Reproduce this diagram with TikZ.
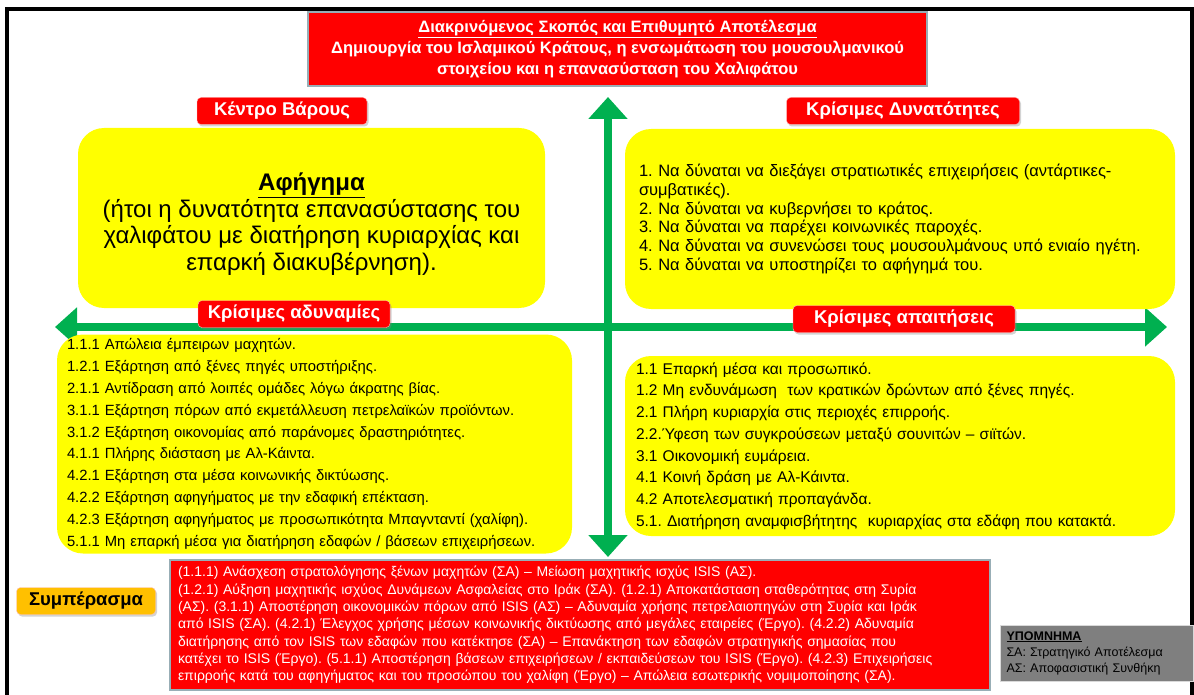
\documentclass[tikz,border=0pt]{standalone}
\usepackage{fontspec}
\setmainfont{Liberation Sans}
\usetikzlibrary{arrows.meta,shadows}
\definecolor{isred}{HTML}{FF0000}
\definecolor{isyellow}{HTML}{FFFF00}
\definecolor{isgreen}{HTML}{00B050}
\definecolor{isorange}{HTML}{FFC000}
\definecolor{isgray}{HTML}{7F7F7F}
\definecolor{isedge}{HTML}{98AEB6}
\frenchspacing

\begin{document}
\begin{tikzpicture}[x=1pt,y=-1pt]
		\useasboundingbox (0,0) rectangle (1194,695);
		\tikzstyle{tag}=[rectangle,rounded corners=4pt,fill=isred,draw=red!25,text=white,font=\bfseries\fontsize{18.5}{20}\selectfont,minimum height=27pt,drop shadow={opacity=0.35,shadow xshift=1.5pt,shadow yshift=-2pt}]
		\tikzstyle{panel}=[rectangle,rounded corners=26pt,fill=isyellow,align=left]
		\tikzstyle{redbox}=[rectangle,fill=isred,draw=isedge,line width=2pt,text=white]
		\tikzstyle{axis}=[line width=8pt,isgreen,{Triangle[width=38pt,length=22pt]}-{Triangle[width=38pt,length=22pt]}]
		% frame
		\draw[line width=3.5pt] (7,695) -- (7,9) -- (1192,9) -- (1192,695);
		% goal
		\node[redbox,minimum width=619pt,minimum height=74pt,align=center,font=\bfseries\fontsize{16.5}{21}\selectfont] (goal) at (617.5,49) {\underline{Διακρινόμενος Σκοπός και Επιθυμητό Αποτέλεσμα}\\Δημιουργία του Ισλαμικού Κράτους, η ενσωμάτωση του μουσουλμανικού\\στοιχείου και η επανασύσταση του Χαλιφάτου};
		% axes
		\coordinate (v_top) at (608,97);
		\coordinate (v_bot) at (608,557);
		\coordinate (h_left) at (55,327);
		\coordinate (h_right) at (1167,327);
		\draw[axis] (v_bot) -- (v_top);
		\draw[axis] (h_left) -- (h_right);
		% quadrants
		\node[panel,minimum width=467pt,minimum height=180pt] (cog) at (311.5,218) {};
		\node[align=center,font=\fontsize{24}{26.5}\selectfont] (cog_txt) at (311.5,224) {\textbf{\underline{Αφήγημα}}\\(ήτοι η δυνατότητα επανασύστασης του\\χαλιφάτου με διατήρηση κυριαρχίας και\\επαρκή διακυβέρνηση).};
		\node[panel,minimum width=550pt,minimum height=180pt,text width=522pt,inner xsep=14pt,font=\fontsize{16.5}{18.7}\selectfont] (cap) at (900,219) {1. Να δύναται να διεξάγει στρατιωτικές επιχειρήσεις (αντάρτικες-\\συμβατικές).\\2. Να δύναται να κυβερνήσει το κράτος.\\3. Να δύναται να παρέχει κοινωνικές παροχές.\\4. Να δύναται να συνενώσει τους μουσουλμάνους υπό ενιαίο ηγέτη.\\5. Να δύναται να υποστηρίζει το αφήγημά του.};
		\node[panel,minimum width=515pt,minimum height=219pt,text width=495pt,inner xsep=10pt,font=\fontsize{14.8}{21.8}\selectfont] (vuln) at (314.5,444) {1.1.1 Απώλεια έμπειρων μαχητών.\\1.2.1 Εξάρτηση από ξένες πηγές υποστήριξης.\\2.1.1 Αντίδραση από λοιπές ομάδες λόγω άκρατης βίας.\\3.1.1 Εξάρτηση πόρων από εκμετάλλευση πετρελαϊκών προϊόντων.\\3.1.2 Εξάρτηση οικονομίας από παράνομες δραστηριότητες.\\4.1.1 Πλήρης διάσταση με Αλ-Κάιντα.\\4.2.1 Εξάρτηση στα μέσα κοινωνικής δικτύωσης.\\4.2.2 Εξάρτηση αφηγήματος με την εδαφική επέκταση.\\4.2.3 Εξάρτηση αφηγήματος με προσωπικότητα Μπαγνταντί (χαλίφη).\\5.1.1 Μη επαρκή μέσα για διατήρηση εδαφών / βάσεων επιχειρήσεων.};
		\node[panel,minimum width=550pt,minimum height=180pt,text width=528pt,inner xsep=11pt,font=\fontsize{15.5}{21.7}\selectfont] (req) at (900,446) {1.1 Επαρκή μέσα και προσωπικό.\\1.2 Μη ενδυνάμωση\ \ των κρατικών δρώντων από ξένες πηγές.\\2.1 Πλήρη κυριαρχία στις περιοχές επιρροής.\\2.2.Ύφεση των συγκρούσεων μεταξύ σουνιτών -- σιϊτών.\\3.1 Οικονομική ευμάρεια.\\4.1 Κοινή δράση με Αλ-Κάιντα.\\4.2 Αποτελεσματική προπαγάνδα.\\5.1. Διατήρηση αναμφισβήτητης\ \ κυριαρχίας στα εδάφη που κατακτά.};
		% titles
		\node[tag,minimum width=170pt] (t_cog) at (282,111) {Κέντρο Βάρους};
		\node[tag,minimum width=233pt] (t_cap) at (903,111) {Κρίσιμες Δυνατότητες};
		\node[tag,minimum width=192pt] (t_vuln) at (294,314) {Κρίσιμες αδυναμίες};
		\node[tag,minimum width=222pt] (t_req) at (904,319) {Κρίσιμες απαιτήσεις};
		% conclusion
		\node[tag,fill=isorange,text=black,minimum width=139pt] (t_conc) at (86,601) {Συμπέρασμα};
		\node[redbox,minimum width=820pt,minimum height=130pt,text width=804pt,inner xsep=8pt,align=left,font=\fontsize{14}{17.3}\selectfont] (conc) at (580,625) {(1.1.1) Ανάσχεση στρατολόγησης ξένων μαχητών (ΣΑ) -- Μείωση μαχητικής ισχύς ISIS (ΑΣ).\\(1.2.1) Αύξηση μαχητικής ισχύος Δυνάμεων Ασφαλείας στο Ιράκ (ΣΑ). (1.2.1) Αποκατάσταση σταθερότητας στη Συρία\\(ΑΣ). (3.1.1) Αποστέρηση οικονομικών πόρων από ISIS (ΑΣ) -- Αδυναμία χρήσης πετρελαιοπηγών στη Συρία και Ιράκ\\από ISIS (ΣΑ). (4.2.1) Έλεγχος χρήσης μέσων κοινωνικής δικτύωσης από μεγάλες εταιρείες (Έργο). (4.2.2) Αδυναμία\\διατήρησης από τον ISIS των εδαφών που κατέκτησε (ΣΑ) -- Επανάκτηση των εδαφών στρατηγικής σημασίας που\\κατέχει το ISIS (Έργο). (5.1.1) Αποστέρηση βάσεων επιχειρήσεων / εκπαιδεύσεων του ISIS (Έργο). (4.2.3) Επιχειρήσεις\\επιρροής κατά του αφηγήματος και του προσώπου του χαλίφη (Έργο) -- Απώλεια εσωτερικής νομιμοποίησης (ΣΑ).};
		% legend
		\node[rectangle,fill=isgray,draw=gray!30,minimum width=193pt,minimum height=56pt,text width=180pt,inner xsep=6.5pt,align=left,font=\fontsize{12.5}{16}\selectfont] (legend) at (1096.5,653) {\textbf{\underline{ΥΠΟΜΝΗΜΑ}}\\ΣΑ: Στρατηγικό Αποτέλεσμα\\ΑΣ: Αποφασιστική Συνθήκη};
	\end{tikzpicture}
\end{document}
